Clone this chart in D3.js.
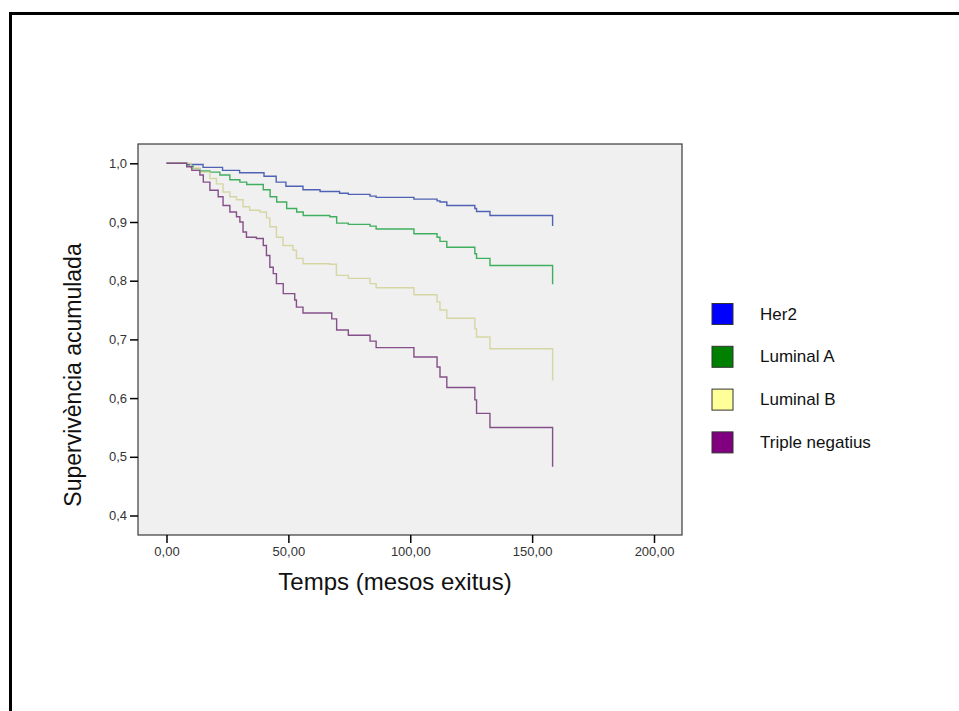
<!DOCTYPE html>
<html>
<head>
<meta charset="utf-8">
<script src="https://cdn.jsdelivr.net/npm/d3@7"></script>
<style>
  body { margin: 0; background: #fff; }
  svg { display: block; font-family: Arial, "Liberation Sans", sans-serif; }
</style>
</head>
<body>
<div id="chart"></div>
<script>
// Kaplan-Meier style cumulative survival
var groups = ["Her2", "Luminal A", "Luminal B", "Triple negatius"];

var her2Times  = [0, 8.3, 15, 23, 30, 40, 45, 49, 56, 63, 71, 74.6, 83.5, 86, 101.5, 111, 112.2, 115, 126.5, 127.2, 132.7, 158.4, 158.4];
var her2Surv   = [1, 0.998, 0.993, 0.988, 0.984, 0.978, 0.968, 0.961, 0.955, 0.952, 0.949, 0.947, 0.944, 0.942, 0.939, 0.936, 0.934, 0.928, 0.923, 0.918, 0.911, 0.911, 0.893];

var lumATimes  = [0, 8.3, 11, 13.7, 17.8, 21.9, 26, 30.1, 32.9, 39.7, 42.5, 45.2, 49.3, 53.4, 56.1, 67, 69.8, 74.6, 83.5, 86, 101.5, 111, 112.2, 115, 126.5, 127.2, 132.7, 158.4, 158.4];
var lumASurv   = [1, 0.995, 0.991, 0.987, 0.985, 0.98, 0.972, 0.968, 0.964, 0.955, 0.943, 0.934, 0.923, 0.917, 0.911, 0.909, 0.898, 0.896, 0.893, 0.888, 0.88, 0.874, 0.867, 0.857, 0.846, 0.838, 0.826, 0.826, 0.794];

var lumBTimes  = [0, 10, 13.7, 17.8, 20.5, 23.2, 26, 28.7, 31.4, 34.1, 38.3, 41, 42.4, 45.1, 47.8, 51.9, 53.3, 56, 67, 69.7, 74.6, 83.5, 86, 101.5, 111, 112.2, 115, 126.5, 127.2, 132.7, 158.4, 158.4];
var lumBSurv   = [1, 0.992, 0.985, 0.974, 0.965, 0.951, 0.943, 0.938, 0.926, 0.92, 0.917, 0.907, 0.892, 0.874, 0.86, 0.852, 0.838, 0.829, 0.828, 0.809, 0.804, 0.795, 0.788, 0.776, 0.764, 0.75, 0.736, 0.718, 0.704, 0.684, 0.684, 0.63];

var tripTimes  = [0, 8.3, 10.4, 13.7, 15.1, 17.8, 21.2, 23.2, 26, 28.7, 30.1, 31.4, 32.8, 36.9, 39.7, 41, 42.4, 43.8, 45.1, 47.9, 52.6, 53.3, 56, 67.8, 69.8, 74.6, 83.5, 86, 101.5, 111, 112.2, 115, 126.5, 127.2, 132.7, 158.4, 158.4];
var tripSurv   = [1, 0.994, 0.988, 0.98, 0.968, 0.954, 0.943, 0.928, 0.917, 0.909, 0.9, 0.883, 0.874, 0.872, 0.86, 0.843, 0.823, 0.812, 0.795, 0.778, 0.767, 0.755, 0.745, 0.735, 0.716, 0.707, 0.697, 0.686, 0.67, 0.653, 0.636, 0.618, 0.597, 0.574, 0.55, 0.55, 0.483];

var xTicks = [0, 50, 100, 150, 200];
var yTicks = [0.4, 0.5, 0.6, 0.7, 0.8, 0.9, 1.0];

var swatchColors = ["#0000ff", "#008000", "#ffff99", "#800080"];
var lineColors = ["#4f62b4", "#3fae5e", "#d6d6a4", "#855089"];

var series = [
  {times: her2Times, surv: her2Surv},
  {times: lumATimes, surv: lumASurv},
  {times: lumBTimes, surv: lumBSurv},
  {times: tripTimes, surv: tripSurv}
];

var width = 959, height = 711;
var plot = {left: 138, right: 682, top: 144, bottom: 535};

var svg = d3.select("#chart").append("svg")
    .attr("width", width)
    .attr("height", height);

// outer frame (runs off the right and bottom edge)
svg.append("rect")
    .attr("x", 10.5).attr("y", 13.5)
    .attr("width", 1000).attr("height", 800)
    .attr("fill", "none")
    .attr("stroke", "#000")
    .attr("stroke-width", 3);

var x = d3.scaleLinear().domain([0, 200]).range([166.5, 654]);
var y = d3.scaleLinear().domain([0.4, 1.0]).range([515.5, 163.3]);

var loc = d3.formatLocale({decimal: ",", thousands: ".", grouping: [3], currency: ["", ""]});

svg.append("rect")
    .attr("x", plot.left).attr("y", plot.top)
    .attr("width", plot.right - plot.left)
    .attr("height", plot.bottom - plot.top)
    .attr("fill", "#f0f0f0")
    .attr("stroke", "#3a3a3a")
    .attr("stroke-width", 1.2);

var xAxis = svg.append("g")
    .attr("transform", "translate(0," + plot.bottom + ")")
    .call(d3.axisBottom(x).tickValues(xTicks).tickSize(8).tickSizeOuter(0).tickFormat(loc.format(".2f")));

var yAxis = svg.append("g")
    .attr("transform", "translate(" + plot.left + ",0)")
    .call(d3.axisLeft(y).tickValues(yTicks).tickSize(8).tickSizeOuter(0).tickFormat(loc.format(".1f")));

[xAxis, yAxis].forEach(function(a) {
  a.select(".domain").remove();
  a.selectAll(".tick line").attr("stroke", "#000").attr("stroke-width", 1.5);
  a.selectAll(".tick text")
      .attr("fill", "#333")
      .style("font-family", "Arial, 'Liberation Sans', sans-serif")
      .style("font-size", "13px");
});
xAxis.selectAll(".tick text").attr("y", 12);
yAxis.selectAll(".tick text").attr("x", -11);

var line = d3.line()
    .curve(d3.curveStepAfter)
    .x(function(d) { return x(d[0]); })
    .y(function(d) { return y(d[1]); });

svg.selectAll(".km")
    .data(series)
    .enter().append("path")
    .attr("class", "km")
    .attr("d", function(s) { return line(s.times.map(function(t, i) { return [t, s.surv[i]]; })); })
    .attr("fill", "none")
    .attr("stroke", function(s, i) { return lineColors[i]; })
    .attr("stroke-width", 1.4);

// axis titles
svg.append("text")
    .attr("x", 395).attr("y", 590)
    .attr("text-anchor", "middle")
    .style("font-size", "24px")
    .attr("fill", "#111")
    .text("Temps (mesos exitus)");

svg.append("text")
    .attr("transform", "translate(81,375) rotate(-90)")
    .attr("text-anchor", "middle")
    .style("font-size", "23px")
    .attr("fill", "#111")
    .text("Supervivència acumulada");

// legend
var legend = svg.selectAll(".legend")
    .data(groups)
    .enter().append("g")
    .attr("class", "legend")
    .attr("transform", function(d, i) { return "translate(712," + (303.5 + i * 42.8) + ")"; });

legend.append("rect")
    .attr("width", 21).attr("height", 21)
    .attr("fill", function(d, i) { return swatchColors[i]; })
    .attr("stroke", "#333")
    .attr("stroke-width", 1);

legend.append("text")
    .attr("x", 48).attr("y", 16)
    .style("font-size", "17px")
    .attr("fill", "#111")
    .text(function(d) { return d; });
</script>
</body>
</html>
